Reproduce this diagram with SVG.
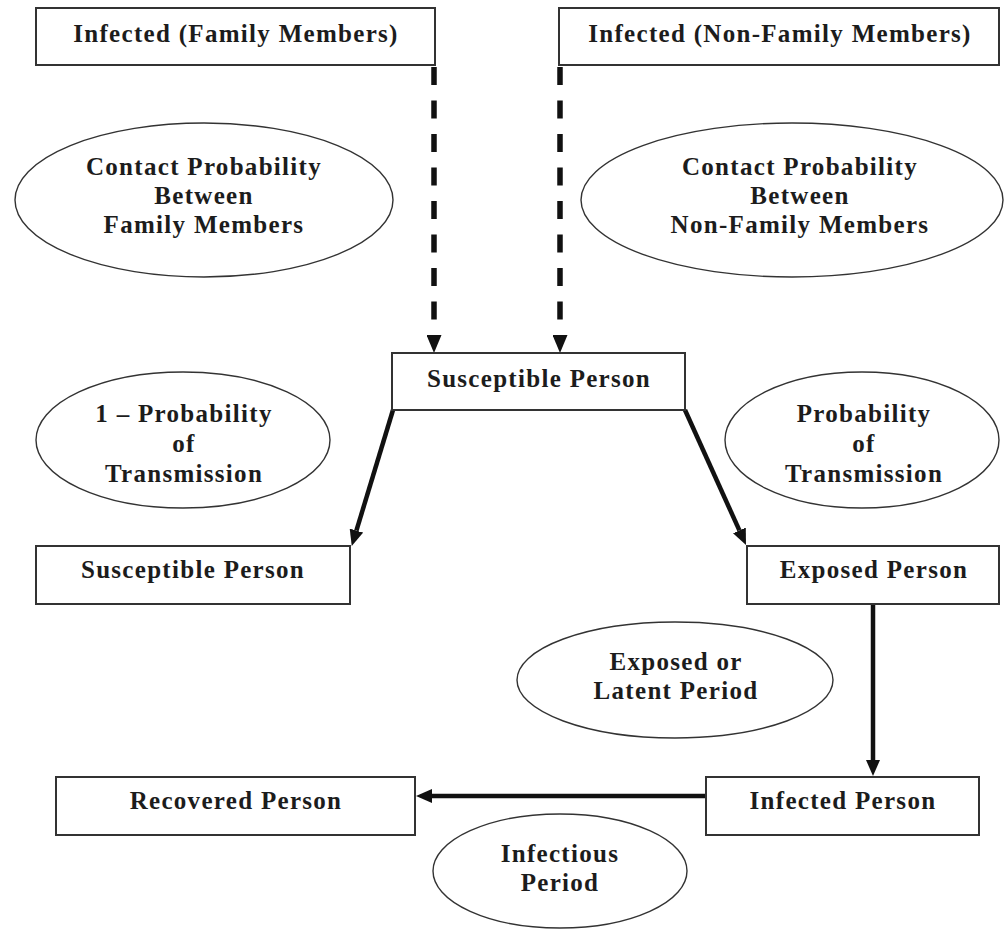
<svg xmlns="http://www.w3.org/2000/svg" width="1005" height="931" viewBox="0 0 1005 931">
<style>
.box{fill:#fff;stroke:#333;stroke-width:2}
.ell{fill:#fff;stroke:#333;stroke-width:1.4}
text{font-family:"Liberation Serif","Times New Roman",serif;font-weight:bold;font-size:25px;letter-spacing:1.3px;fill:#1c1c1c;text-anchor:middle}
.dash{stroke:#111;stroke-width:5.5;stroke-dasharray:18 15.5;fill:none}
.solid{stroke:#111;stroke-width:4.5;fill:none}
</style>
<defs>
<marker id="ah" markerUnits="userSpaceOnUse" markerWidth="16" markerHeight="14" refX="0" refY="7" orient="auto" viewBox="0 0 16 14">
<path d="M0,0 L16,7 L0,14 z" fill="#111"/>
</marker>
<marker id="ahd" markerUnits="userSpaceOnUse" markerWidth="18" markerHeight="15" refX="0" refY="7.5" orient="auto" viewBox="0 0 18 15">
<path d="M0,0 L18,7.5 L0,15 z" fill="#111"/>
</marker>
</defs>
<g id="connectors">
<line class="dash" x1="434" y1="67" x2="434" y2="335" marker-end="url(#ahd)"/>
<line class="dash" x1="560" y1="67" x2="560" y2="335" marker-end="url(#ahd)"/>
<line class="solid" x1="393" y1="410" x2="356.4" y2="530.6" marker-end="url(#ah)"/>
<line class="solid" x1="685" y1="410" x2="739.4" y2="530.4" marker-end="url(#ah)"/>
<line class="solid" x1="873" y1="604" x2="873" y2="760" marker-end="url(#ah)"/>
<line class="solid" x1="706" y1="796" x2="432" y2="796" marker-end="url(#ah)"/>
</g>
<g id="infected-family">
<rect class="box" x="36" y="8" width="399" height="57"/>
<text x="236" y="42">Infected (Family Members)</text>
</g>
<g id="infected-nonfamily">
<rect class="box" x="559" y="8" width="440" height="57"/>
<text x="780" y="42">Infected (Non-Family Members)</text>
</g>
<g id="contact-family">
<ellipse class="ell" cx="204" cy="200" rx="189" ry="77"/>
<text x="204" y="175">Contact Probability</text>
<text x="204" y="204">Between</text>
<text x="204" y="233">Family Members</text>
</g>
<g id="contact-nonfamily">
<ellipse class="ell" cx="792" cy="200" rx="211" ry="77"/>
<text x="800" y="175">Contact Probability</text>
<text x="800" y="204">Between</text>
<text x="800" y="233">Non-Family Members</text>
</g>
<g id="susceptible-center">
<rect class="box" x="392" y="353" width="293" height="57"/>
<text x="539" y="387">Susceptible Person</text>
</g>
<g id="one-minus-prob">
<ellipse class="ell" cx="183" cy="440" rx="147" ry="68"/>
<text x="184" y="422">1 – Probability</text>
<text x="184" y="452">of</text>
<text x="184" y="482">Transmission</text>
</g>
<g id="prob-transmission">
<ellipse class="ell" cx="862" cy="440" rx="137" ry="68"/>
<text x="864" y="422">Probability</text>
<text x="864" y="452">of</text>
<text x="864" y="482">Transmission</text>
</g>
<g id="susceptible-left">
<rect class="box" x="36" y="546" width="314" height="58"/>
<text x="193" y="578">Susceptible Person</text>
</g>
<g id="exposed">
<rect class="box" x="747" y="546" width="252" height="58"/>
<text x="874" y="578">Exposed Person</text>
</g>
<g id="latent-period">
<ellipse class="ell" cx="675" cy="680" rx="158" ry="58"/>
<text x="676" y="670">Exposed or</text>
<text x="676" y="699">Latent Period</text>
</g>
<g id="infected-person">
<rect class="box" x="706" y="777" width="273" height="58"/>
<text x="843" y="809">Infected Person</text>
</g>
<g id="recovered">
<rect class="box" x="56" y="777" width="359" height="58"/>
<text x="236" y="809">Recovered Person</text>
</g>
<g id="infectious-period">
<ellipse class="ell" cx="560" cy="871" rx="127" ry="57"/>
<text x="560" y="862">Infectious</text>
<text x="560" y="891">Period</text>
</g>
</svg>
